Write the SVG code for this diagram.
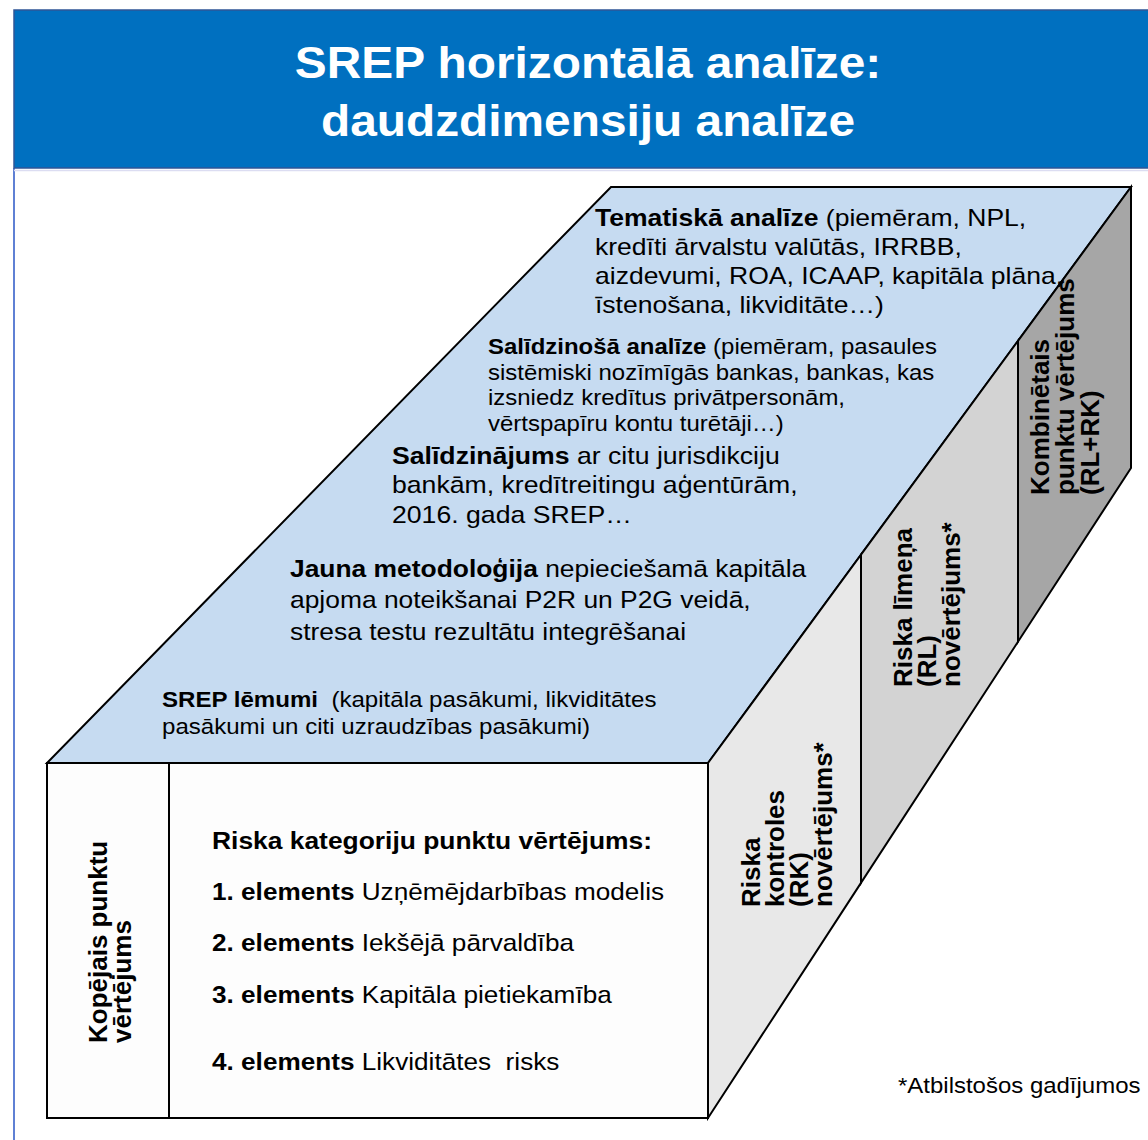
<svg xmlns="http://www.w3.org/2000/svg" width="1148" height="1140" viewBox="0 0 1148 1140">
  <style>
    text { font-family: "Liberation Sans", Arial, "Noto Sans", sans-serif; fill: #000; }
    .hd { font-size: 44px; font-weight: bold; fill: #fff; }
    .b { font-weight: bold; }
    .f24 { font-size: 24px; }
    .f22 { font-size: 22px; }
    .rot { font-size: 26px; font-weight: bold; }
    .edge { stroke: #000; stroke-width: 2; stroke-linejoin: miter; }
  </style>
  <rect x="0" y="0" width="1148" height="1140" fill="#fff"/>
  <!-- frame -->
  <g id="frame">
    <line x1="14" y1="168" x2="14" y2="1140" stroke="#2A56C6" stroke-width="1.5"/>
    <line x1="14" y1="170.5" x2="1148" y2="170.5" stroke="#DCDDF2" stroke-width="1.5"/>
  </g>
  <!-- header -->
  <g id="header">
    <rect x="14" y="10" width="1140" height="158" fill="#0070C0" stroke="#2F5597" stroke-width="1.5"/>
    <text class="hd" text-anchor="middle" transform="translate(588,78) scale(1.087,1)">SREP horizontālā analīze:</text>
    <text class="hd" text-anchor="middle" transform="translate(588,136) scale(1.087,1)">daudzdimensiju analīze</text>
  </g>
  <!-- top face -->
  <g id="top-face">
    <polygon class="edge" points="611,187 1131,187 708,763 47,763" fill="#C6DBF1"/>
  </g>
  <!-- side panels -->
  <g id="side-rk">
    <polygon class="edge" points="708,763 861,554.7 861,882.9 708,1118" fill="#E8E8E8"/>
  </g>
  <g id="side-rl">
    <polygon class="edge" points="861,554.7 1018,340.9 1018,641.7 861,882.9" fill="#D3D3D3"/>
  </g>
  <g id="side-combined">
    <polygon class="edge" points="1018,340.9 1131,187 1131,468 1018,641.7" fill="#A6A6A6"/>
  </g>
  <!-- front box -->
  <g id="front-box">
    <rect class="edge" x="47" y="763" width="661" height="355" fill="#FDFDFD"/>
    <line class="edge" x1="169" y1="763" x2="169" y2="1118"/>
  </g>
  <g id="connectors"></g>
  <!-- texts on top face -->
  <g id="tematiska">
    <text class="f24" transform="translate(595,226) scale(1.105,1)"><tspan class="b">Tematiskā analīze</tspan> (piemēram, NPL,<tspan x="0" dy="29">kredīti ārvalstu valūtās, IRRBB,</tspan><tspan x="0" dy="29">aizdevumi, ROA, ICAAP, kapitāla plāna,</tspan><tspan x="0" dy="29">īstenošana, likviditāte…)</tspan></text>
  </g>
  <g id="salidzinosa">
    <text class="f22" transform="translate(488,354) scale(1.09,1)"><tspan class="b">Salīdzinošā analīze</tspan> (piemēram, pasaules<tspan x="0" dy="25.7">sistēmiski nozīmīgās bankas, bankas, kas</tspan><tspan x="0" dy="25.7">izsniedz kredītus privātpersonām,</tspan><tspan x="0" dy="25.7">vērtspapīru kontu turētāji…)</tspan></text>
  </g>
  <g id="salidzinajums">
    <text class="f24" transform="translate(392,464) scale(1.11,1)"><tspan class="b">Salīdzinājums</tspan> ar citu jurisdikciju<tspan x="0" dy="29.5">bankām, kredītreitingu aģentūrām,</tspan><tspan x="0" dy="29.5">2016. gada SREP…</tspan></text>
  </g>
  <g id="metodologija">
    <text class="f24" transform="translate(290,577) scale(1.1,1)"><tspan class="b">Jauna metodoloģija</tspan> nepieciešamā kapitāla<tspan x="0" dy="31.5">apjoma noteikšanai P2R un P2G veidā,</tspan><tspan x="0" dy="31.5">stresa testu rezultātu integrēšanai</tspan></text>
  </g>
  <g id="srep-lemumi">
    <text class="f22" xml:space="preserve" transform="translate(162,707) scale(1.095,1)"><tspan class="b">SREP lēmumi</tspan>  (kapitāla pasākumi, likviditātes<tspan x="0" dy="27">pasākumi un citi uzraudzības pasākumi)</tspan></text>
  </g>
  <!-- front texts -->
  <g id="risk-categories">
    <text class="f24 b" transform="translate(212,849) scale(1.1,1)">Riska kategoriju punktu vērtējums:</text>
    <text class="f24" transform="translate(212,900) scale(1.09,1)"><tspan class="b">1. elements</tspan> Uzņēmējdarbības modelis</text>
    <text class="f24" transform="translate(212,951) scale(1.09,1)"><tspan class="b">2. elements</tspan> Iekšējā pārvaldība</text>
    <text class="f24" transform="translate(212,1003) scale(1.09,1)"><tspan class="b">3. elements</tspan> Kapitāla pietiekamība</text>
    <text class="f24" xml:space="preserve" transform="translate(212,1070) scale(1.09,1)"><tspan class="b">4. elements</tspan> Likviditātes  risks</text>
  </g>
  <g id="overall-score">
    <text class="rot" transform="translate(107,1043) rotate(-90)">Kopējais punktu<tspan x="0" dy="24">vērtējums</tspan></text>
  </g>
  <g id="rk-label">
    <text class="rot" transform="translate(760,907) rotate(-90)">Riska<tspan x="0" dy="24">kontroles</tspan><tspan x="0" dy="24">(RK)</tspan><tspan x="0" dy="24">novērtējums*</tspan></text>
  </g>
  <g id="rl-label">
    <text class="rot" transform="translate(912,687) rotate(-90)">Riska līmeņa<tspan x="0" dy="24">(RL)</tspan><tspan x="0" dy="24">novērtējums*</tspan></text>
  </g>
  <g id="combined-label">
    <text class="rot" transform="translate(1049,495) rotate(-90)">Kombinētais<tspan x="0" dy="25">punktu vērtējums</tspan><tspan x="0" dy="25">(RL+RK)</tspan></text>
  </g>
  <g id="footnote">
    <text class="f22" transform="translate(898,1093) scale(1.09,1)">*Atbilstošos gadījumos</text>
  </g>
</svg>
